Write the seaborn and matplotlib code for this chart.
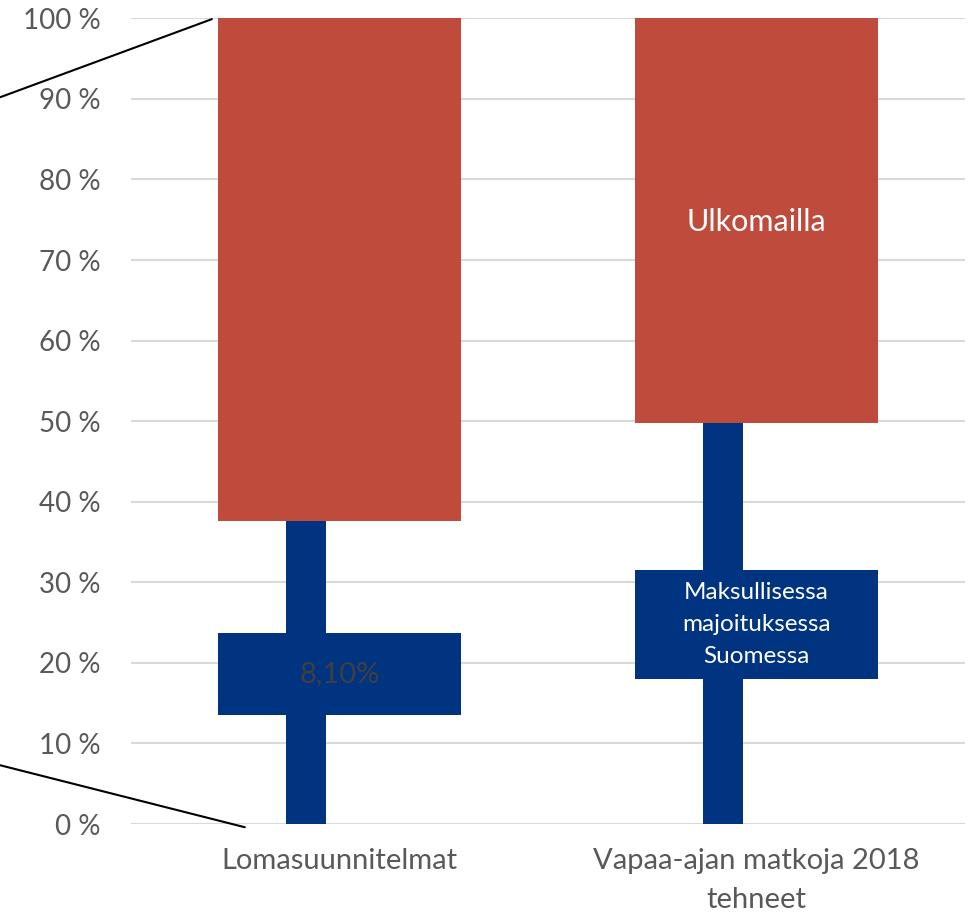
import matplotlib
matplotlib.use("Agg")
import matplotlib.pyplot as plt
import pandas as pd
import seaborn as sns

# Chart values (percent)
categories = ["Lomasuunnitelmat", "Vapaa-ajan matkoja 2018\ntehneet"]
domestic = [37.6, 49.8]          # narrow blue stem: trips in Finland
paid_low = [13.5, 18.0]          # wide blue block: paid accommodation in Finland
paid_high = [23.7, 31.5]
abroad = [62.4, 50.2]            # red block on top: abroad
paid_labels = ["8,10%", "Maksullisessa\nmajoituksessa\nSuomessa"]
abroad_labels = ["", "Ulkomailla"]
yticks = list(range(0, 101, 10))

# connector lines from the cut-off chart on the left (data coords)
connector_top = ([-0.814, -0.306], [90.2, 99.9])
connector_bottom = ([-0.814, -0.227], [7.3, -0.4])

df = pd.DataFrame({
    "cat": categories,
    "domestic": domestic,
    "paid_low": paid_low,
    "paid_h": [h - l for h, l in zip(paid_high, paid_low)],
    "abroad": abroad,
})

sns.set_style("white")
plt.rcParams["font.family"] = ["Lato", "DejaVu Sans"]

blue = "#003380"
red = "#BE4B3C"
grey = "#595959"

fig = plt.figure(figsize=(9.7, 9.17), dpi=100)
ax = fig.add_axes([0.135, 0.1014, 0.86, 0.8786])

sns.barplot(data=df, x="cat", y="domestic", color=blue, width=0.096,
            saturation=1, linewidth=0, ax=ax, zorder=3)
# the stem sits a little left of the block centre in the original
for p in ax.patches:
    p.set_x(p.get_x() - 0.08)
sns.barplot(data=df, x="cat", y="paid_h", bottom=df["paid_low"], color=blue,
            width=0.583, saturation=1, linewidth=0, ax=ax, zorder=3)
sns.barplot(data=df, x="cat", y="abroad", bottom=df["domestic"], color=red,
            width=0.583, saturation=1, linewidth=0, ax=ax, zorder=3)

for i in range(len(categories)):
    mid = (paid_low[i] + paid_high[i]) / 2
    if i == 0:
        ax.text(i, mid, paid_labels[i], ha="center", va="center",
                color="#404040", fontsize=21, zorder=4)
    else:
        ax.text(i, mid, paid_labels[i], ha="center", va="center",
                color="white", fontsize=17.5, linespacing=1.65, zorder=4)
    if abroad_labels[i]:
        ax.text(i, 74.7, abroad_labels[i], ha="center", va="center",
                color="white", fontsize=22, zorder=4)

ax.set_xlim(-0.5, 1.5)
ax.set_ylim(0, 100)
ax.set_yticks(yticks)
ax.set_yticklabels([f"{v} %" for v in yticks])
ax.yaxis.grid(True, color="#d9d9d9", linewidth=1.5, zorder=0)
ax.set_axisbelow(True)
for s in ax.spines.values():
    s.set_visible(False)
ax.tick_params(axis="y", length=0, pad=22, labelsize=20, labelcolor=grey)
ax.tick_params(axis="x", length=0, pad=17, labelsize=21, labelcolor=grey)
for lbl in ax.get_xticklabels():
    lbl.set_linespacing(1.65)
ax.set_xlabel("")
ax.set_ylabel("")

ax.plot(*connector_top, color="black", linewidth=1.5, clip_on=False, zorder=5)
ax.plot(*connector_bottom, color="black", linewidth=1.5, clip_on=False, zorder=5)

fig.savefig("out.png", dpi=100, facecolor="white")
